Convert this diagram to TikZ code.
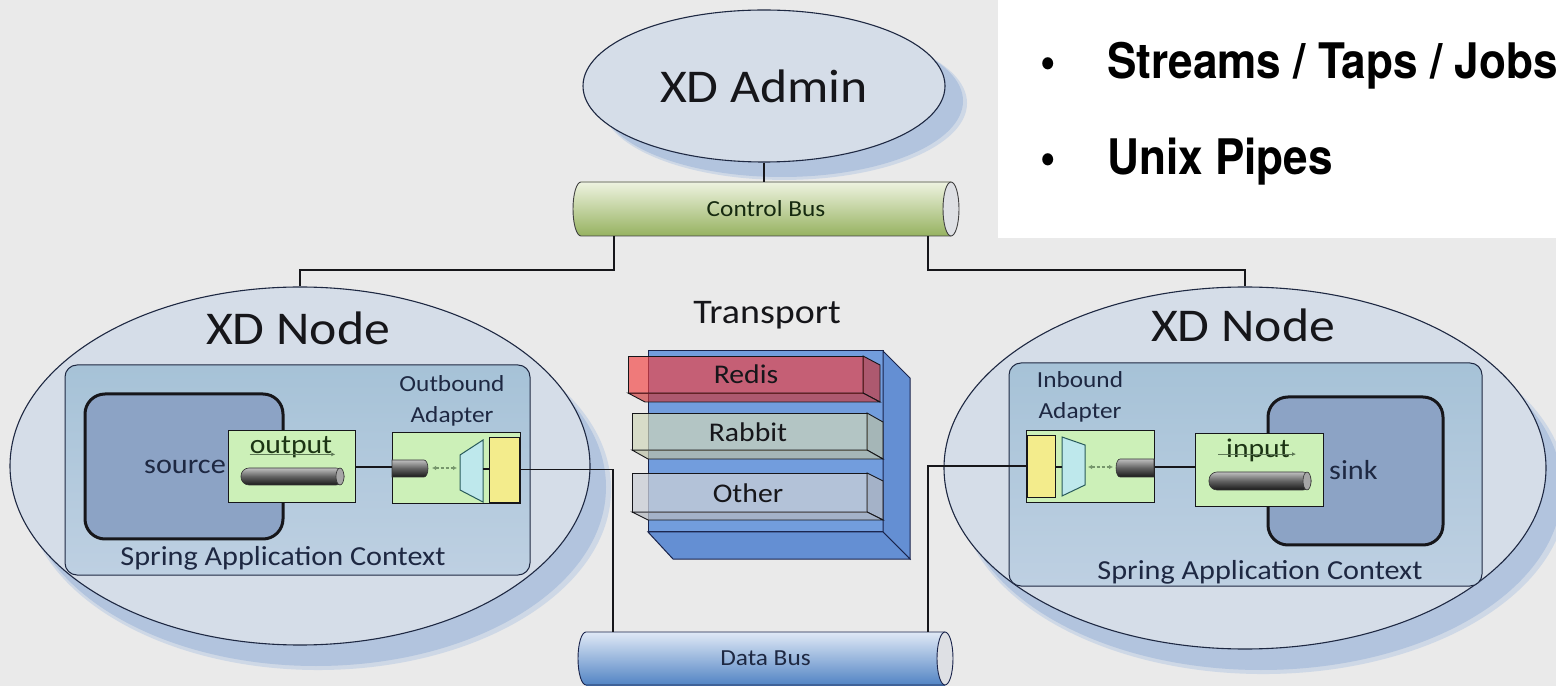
\documentclass[tikz,border=0pt]{standalone}
\usepackage{fontspec}
\setmainfont{Carlito}[FakeStretch=1.1]
\newfontfamily\bulletfont{TeX Gyre Heros}[FakeStretch=0.9]
\usetikzlibrary{shapes.geometric,shadows,arrows.meta,calc}

\definecolor{bgc}{RGB}{234,234,234}
\definecolor{inkc}{RGB}{22,22,26}
\definecolor{navyc}{RGB}{30,40,66}
\definecolor{ellc}{RGB}{213,221,232}
\definecolor{shadowc}{RGB}{178,196,222}
\definecolor{shadowsoft}{RGB}{206,216,230}
\definecolor{ctxtop}{RGB}{166,194,215}
\definecolor{ctxbot}{RGB}{190,208,226}
\definecolor{modc}{RGB}{140,163,197}
\definecolor{greenc}{RGB}{204,240,184}
\definecolor{yellowc}{RGB}{243,236,140}
\definecolor{trapc}{RGB}{190,232,236}
\definecolor{trapline}{RGB}{40,90,90}
\definecolor{cbtop}{RGB}{238,243,224}
\definecolor{cbbot}{RGB}{150,178,96}
\definecolor{dbtop}{RGB}{224,233,246}
\definecolor{dbbot}{RGB}{82,132,196}
\definecolor{capc}{RGB}{222,224,228}
\definecolor{tblue}{RGB}{114,157,221}
\definecolor{tblueside}{RGB}{100,143,211}
\definecolor{tline}{RGB}{25,35,75}
\definecolor{redisc}{RGB}{242,62,62}
\definecolor{rabbitc}{RGB}{208,215,186}
\definecolor{otherc}{RGB}{202,207,215}
\definecolor{dashc}{RGB}{118,150,108}
\definecolor{labgreen}{RGB}{28,52,20}

\begin{document}
\begin{tikzpicture}[x=1pt,y=1pt,
  xdell/.style={ellipse, draw=navyc, line width=1.1pt, fill=ellc, inner sep=0pt},
  nodeshadow/.style={
    drop shadow={shadow xshift=18pt, shadow yshift=-23pt, shadow scale=1.01, fill=shadowsoft, opacity=1, draw=none},
    drop shadow={shadow xshift=16pt, shadow yshift=-21pt, fill=shadowc, opacity=1, draw=none}},
  ctxbox/.style={rectangle, rounded corners=12pt, draw=navyc, line width=1pt,
                 top color=ctxtop, bottom color=ctxbot, inner sep=0pt},
  modbox/.style={rectangle, rounded corners=20pt, draw=inkc, line width=3pt, fill=modc, inner sep=0pt},
  chanbox/.style={rectangle, draw=inkc, line width=1pt, fill=greenc, inner sep=0pt},
  yelbox/.style={rectangle, draw=inkc, line width=0.9pt, fill=yellowc, inner sep=0pt},
  wire/.style={draw=inkc, line width=1.7pt},
  thinwire/.style={draw=inkc, line width=1.1pt},
  busline/.style={draw=tline, line width=0.9pt},
  pipe/.style={draw=black!80, line width=0.6pt, top color=black!25, bottom color=black!90, middle color=black!62},
  dblarrow/.style={draw=dashc, line width=1.2pt, densely dashed,
                   {Latex[length=4pt,width=4.5pt]}-{Latex[length=4pt,width=4.5pt]}},
  labarrow/.style={draw=dashc!80!black, line width=0.9pt, -{Latex[length=4pt,width=4pt]}},
  bigfont/.style={font=\fontsize{47}{52}\selectfont, text=inkc},
  midfont/.style={font=\fontsize{27.5}{31}\selectfont, text=navyc},
  busfont/.style={font=\fontsize{23}{26}\selectfont},
  adfont/.style={font=\fontsize{23}{31}\selectfont, text=navyc, align=center},
  barfont/.style={font=\fontsize{27}{30}\selectfont, text=inkc},
  bulfont/.style={font=\bulletfont\bfseries\fontsize{49}{55}\selectfont, text=black, inner sep=0pt}
]
\useasboundingbox (0,0) rectangle (1556,686);
\clip (0,0) rectangle (1556,686);
\fill[bgc] (0,0) rectangle (1556,686);

% ---- bullet panel ----
\fill[white] (998,448) rectangle (1556,686);
\node[bulfont, anchor=base] (b1) at (1048,607) {•};
\node[bulfont, anchor=base west] (t1) at (1107,607) {Streams / Taps / Jobs};
\node[bulfont, anchor=base] (b2) at (1048,511) {•};
\node[bulfont, anchor=base west] (t2) at (1107,511) {Unix Pipes};

% ---- admin ----
\node[xdell,
      drop shadow={shadow xshift=20pt, shadow yshift=-17pt, shadow scale=1.01, fill=shadowsoft, opacity=1, draw=none},
      drop shadow={shadow xshift=18pt, shadow yshift=-15pt, fill=shadowc, opacity=1, draw=none},
      minimum width=362, minimum height=152, bigfont] (admin) at (764,600) {XD Admin};

% ---- control bus ----
\shade[top color=cbtop, bottom color=cbbot] (581,504) rectangle (951,450);
\shade[top color=cbtop, bottom color=cbbot] (581,477) ellipse [x radius=8, y radius=27];
\draw[busline, draw=black!75] (951,504) -- (581,504) arc[start angle=90, end angle=270, x radius=8, y radius=27] -- (951,450);
\draw[busline, draw=black!75, fill=capc] (951,477) ellipse [x radius=8, y radius=27];
\node[busfont, text=labgreen!80!black, minimum width=386, minimum height=54, inner sep=0pt] (cbus) at (766,477) {Control Bus};

% ---- data bus ----
\shade[top color=dbtop, bottom color=dbbot] (586,54) rectangle (945,1);
\shade[top color=dbtop, bottom color=dbbot] (586,27.5) ellipse [x radius=8, y radius=26.5];
\draw[busline] (945,54) -- (586,54) arc[start angle=90, end angle=270, x radius=8, y radius=26.5] -- (945,1);
\draw[busline, fill=capc] (945,27.5) ellipse [x radius=8, y radius=26.5];
\node[busfont, text=navyc, minimum width=375, minimum height=53, inner sep=0pt] (dbus) at (765.5,27.5) {Data Bus};

% ---- node ellipses ----
\node[xdell, nodeshadow, minimum width=580, minimum height=358] (lnode) at (300,220) {};
\node[xdell, nodeshadow, minimum width=602, minimum height=362] (rnode) at (1245,218) {};
\node[bigfont] (lnodet) at (298,358) {XD Node};
\node[bigfont] (rnodet) at (1243,361) {XD Node};

% ---- left application context ----
\node[ctxbox, minimum width=465, minimum height=210] (lctx) at (297.5,216) {};
\node[midfont] (lctxt) at (283,128) {Spring Application Context};
\node[modbox, minimum width=198, minimum height=145] (source) at (184,219.5) {};
\node[midfont, anchor=east, inner sep=0pt] (sourcet) at (226,219) {source};
\node[chanbox, minimum width=127, minimum height=72] (outbox) at (291.5,219) {};
\node[font=\fontsize{27}{30}\selectfont, text=labgreen, inner sep=0pt] (outlbl) at (291,239) {output};
\draw[labarrow] ([yshift=-1pt]outlbl.base west) -- ([xshift=3pt,yshift=-1pt]outlbl.base east);
\shadedraw[pipe, rounded corners=8pt] (241,201) rectangle (344,218);
\draw[draw=black!80, line width=0.6pt, fill=black!35] (340,209.5) ellipse [x radius=4, y radius=8.5];

\node[chanbox, minimum width=128, minimum height=71] (outad) at (456,217.5) {};
\node[adfont] (outadt) at (452,285) {Outbound\\Adapter};
\shadedraw[pipe] (392,226) -- (424,226) arc[start angle=90, end angle=-90, x radius=4, y radius=8.5] -- (392,209) -- cycle;
\draw[dblarrow] (432,218) -- (457,218);
\draw[draw=trapline, line width=1pt, fill=trapc] (460,231) -- (483,246) -- (483,184) -- (460,196) -- cycle;
\node[yelbox, minimum width=30, minimum height=65] (oyel) at (504,216.5) {};
\draw[thinwire] (483,217) -- (oyel.west |- 0,217);

% ---- right application context ----
\node[ctxbox, minimum width=473, minimum height=223] (rctx) at (1245.5,211.5) {};
\node[midfont] (rctxt) at (1260,114) {Spring Application Context};
\node[modbox, minimum width=175, minimum height=148] (sink) at (1355.5,215) {};
\node[midfont, anchor=west, inner sep=0pt] (sinkt) at (1329,216) {sink};
\node[chanbox, minimum width=128, minimum height=73] (inbox) at (1259,215.5) {};
\node[font=\fontsize{27}{30}\selectfont, text=labgreen, inner sep=0pt] (inlbl) at (1258,236) {input};
\draw[labarrow] ([xshift=-8pt,yshift=3pt]inlbl.base west) -- ([xshift=6pt,yshift=3pt]inlbl.base east);
\shadedraw[pipe, rounded corners=8pt] (1209,196) rectangle (1311,214);
\draw[draw=black!80, line width=0.6pt, fill=black!35] (1307,205) ellipse [x radius=4, y radius=9];

\node[chanbox, minimum width=128, minimum height=72] (inad) at (1090,219) {};
\node[adfont] (inadt) at (1080,289) {Inbound\\Adapter};
\node[yelbox, minimum width=28, minimum height=62] (iyel) at (1041,220) {};
\draw[draw=trapline, line width=1pt, fill=trapc] (1062,249) -- (1085,241) -- (1085,201) -- (1062,190) -- cycle;
\draw[thinwire] (iyel.east |- 0,219) -- (1062,219);
\draw[dblarrow] (1088,219) -- (1113,219);
\shadedraw[pipe] (1154,227) -- (1120,227) arc[start angle=90, end angle=270, x radius=4, y radius=9] -- (1154,209) -- cycle;

% ---- transport stack ----
\node[font=\fontsize{34.5}{38}\selectfont, text=inkc] (transport) at (767,371) {Transport};
\filldraw[draw=tline, line width=1pt, fill=tblue] (648,154) rectangle (883,335);
\filldraw[draw=tline, line width=1pt, fill=tblueside] (883,335) -- (910,308) -- (910,127) -- (883,154) -- cycle;
\filldraw[draw=tline, line width=1pt, fill=tblueside] (648,154) -- (673,127) -- (910,127) -- (883,154) -- cycle;

\filldraw[draw=inkc, line width=0.9pt, fill=redisc, fill opacity=0.65] (628,293) rectangle (863,330);
\filldraw[draw=inkc, line width=0.9pt, fill=redisc!85!black, fill opacity=0.65] (863,330) -- (880,321) -- (880,284) -- (863,293) -- cycle;
\filldraw[draw=inkc, line width=0.9pt, fill=redisc!85!black, fill opacity=0.65] (628,293) -- (863,293) -- (880,284) -- (645,284) -- cycle;
\node[barfont] (redis) at (746,312) {Redis};

\filldraw[draw=inkc, line width=0.9pt, fill=rabbitc, fill opacity=0.7] (632,236) rectangle (867,273);
\filldraw[draw=inkc, line width=0.9pt, fill=rabbitc!90!black, fill opacity=0.7] (867,273) -- (883,264) -- (883,227) -- (867,236) -- cycle;
\filldraw[draw=inkc, line width=0.9pt, fill=rabbitc!90!black, fill opacity=0.7] (632,236) -- (867,236) -- (883,227) -- (648,227) -- cycle;
\node[barfont] (rabbit) at (748,254) {Rabbit};

\filldraw[draw=inkc, line width=0.9pt, fill=otherc, fill opacity=0.75] (632,174) rectangle (867,213);
\filldraw[draw=inkc, line width=0.9pt, fill=otherc!90!black, fill opacity=0.75] (867,213) -- (883,205) -- (883,166) -- (867,174) -- cycle;
\filldraw[draw=inkc, line width=0.9pt, fill=otherc!90!black, fill opacity=0.75] (632,174) -- (867,174) -- (883,166) -- (648,166) -- cycle;
\node[barfont] (other) at (748,193) {Other};

% ---- connectors ----
\draw[wire] (admin.south) -- (admin.south |- cbus.north);
\draw[wire] ([xshift=41pt]cbus.south west) -- ++(0,-34) -| (lnode.north);
\draw[wire] ([xshift=-31pt]cbus.south east) -- ++(0,-34) -| (rnode.north);
\draw[thinwire] (outbox.east) -- (outbox.east -| outad.west);
\draw[thinwire] (inad.east) -- (inad.east -| inbox.west);
\draw[wire] (oyel.east) -| ([xshift=35pt]dbus.north west);
\draw[wire] (iyel.west) -| ([xshift=-25pt]dbus.north east);
\end{tikzpicture}
\end{document}
